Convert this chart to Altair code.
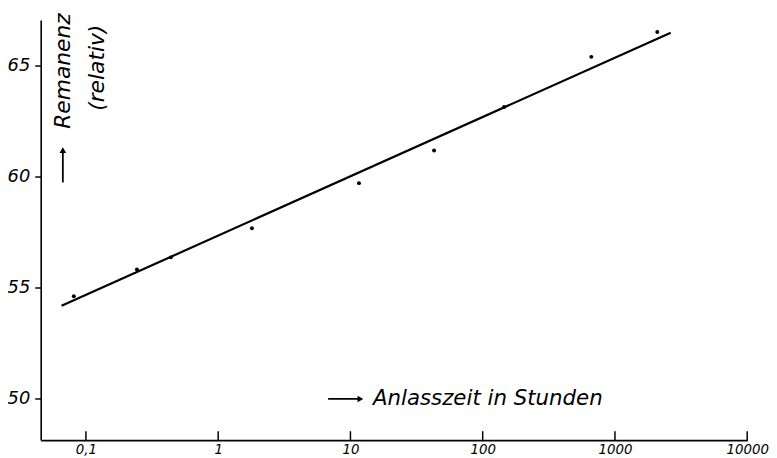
import altair as alt
import pandas as pd

# Measured points (Anlasszeit in Stunden, Remanenz relativ)
hours = [0.081, 0.243, 0.439, 1.80, 11.6, 42.9, 145, 663, 2090]
remanence = [54.62, 55.82, 56.37, 57.68, 59.71, 61.18, 63.13, 65.39, 66.51]

# Fitted straight line (end points as drawn)
line_hours = [0.0654, 2641]
line_remanence = [54.19, 66.48]

# Axis ticks
x_tick_values = [0.1, 1, 10, 100, 1000, 10000]
x_tick_labels = ["0,1", "1", "10", "100", "1000", "10000"]
y_tick_values = [50, 55, 60, 65]

X_DOMAIN = [0.0455, 10000]
Y_DOMAIN = [48.15, 67.05]
W, H = 713, 424
FONT = "DejaVu Sans"

pts = pd.DataFrame({"h": hours, "r": remanence})
ln = pd.DataFrame({"h": line_hours, "r": line_remanence})
ticks = pd.DataFrame({"h": x_tick_values, "lab": x_tick_labels})

label_expr = "replace(format(datum.value, '~g'), '.', ',')"

xs = alt.Scale(type="log", domain=X_DOMAIN, nice=False)
ys = alt.Scale(domain=Y_DOMAIN, nice=False, zero=False)

x_axis = alt.Axis(
    values=x_tick_values, labelExpr=label_expr, ticks=False, grid=False,
    labelFont=FONT, labelFontStyle="italic", labelFontSize=13.5, labelColor="black",
    labelPadding=3, domainColor="black", domainWidth=1.6, title="",
    labelFlush=False, labelOverlap=False,
)
y_axis = alt.Axis(
    values=y_tick_values, grid=False, tickSize=6, tickWidth=1.5, tickColor="black",
    labelFont=FONT, labelFontStyle="italic", labelFontSize=18, labelColor="black",
    labelPadding=5, domainColor="black", domainWidth=1.6, title="",
)


def X(field):
    return alt.X(field, scale=xs, axis=x_axis)


def Y(field):
    return alt.Y(field, scale=ys, axis=y_axis)


line = alt.Chart(ln).mark_line(color="black", strokeWidth=2.2).encode(
    x=X("h:Q"), y=Y("r:Q")
)
points = alt.Chart(pts).mark_circle(color="black", size=16, opacity=1).encode(
    x=X("h:Q"), y=Y("r:Q")
)

# inward x ticks
xticks = alt.Chart(ticks).mark_rule(color="black", strokeWidth=1.5).encode(
    x=X("h:Q"), y=alt.value(H + 1), y2=alt.value(H - 9)
)

# Annotations
ann_v = pd.DataFrame({
    "h": [0.0669, 0.1205],
    "r": [64.75, 64.9],
    "t": ["Remanenz", "(relativ)"],
})
ann_h = pd.DataFrame({"h": [14.8], "r": [50.0], "t": ["Anlasszeit in Stunden"]})

txt_v = alt.Chart(ann_v).mark_text(
    font=FONT, fontStyle="italic", fontSize=22, color="black", angle=270,
    align="center", baseline="middle",
).encode(x=X("h:Q"), y=Y("r:Q"), text="t:N")
txt_h = alt.Chart(ann_h).mark_text(
    font=FONT, fontStyle="italic", fontSize=21.5, color="black",
    align="left", baseline="middle",
).encode(x=X("h:Q"), y=Y("r:Q"), text="t:N")

varrow = pd.DataFrame({"h": [0.0669], "r": [59.74], "r2": [61.2]})
harrow = pd.DataFrame({"h": [6.78], "h2": [11.9], "r": [50.0]})
vshaft = alt.Chart(varrow).mark_rule(color="black", strokeWidth=1.8).encode(
    x=X("h:Q"), y=Y("r:Q"), y2="r2:Q")
vhead = alt.Chart(varrow).mark_point(shape="triangle-up", filled=True, color="black",
                                     size=45, opacity=1).encode(
    x=X("h:Q"), y=Y("r2:Q"))
hshaft = alt.Chart(harrow).mark_rule(color="black", strokeWidth=1.8).encode(
    x=X("h:Q"), x2="h2:Q", y=Y("r:Q"))
hhead = alt.Chart(harrow).mark_point(shape="triangle-right", filled=True, color="black",
                                     size=45, opacity=1).encode(
    x=X("h2:Q"), y=Y("r:Q"))

chart = alt.layer(line, points, xticks, txt_v, txt_h, vshaft, vhead, hshaft, hhead).properties(
    width=W, height=H,
    autosize=alt.AutoSizeParams(type="none"),
    padding={"left": 33, "top": 10, "right": 22, "bottom": 17},
    background="white",
).configure_view(stroke=None)

chart.save("out.html", embed_options={"renderer": "svg", "actions": False})
